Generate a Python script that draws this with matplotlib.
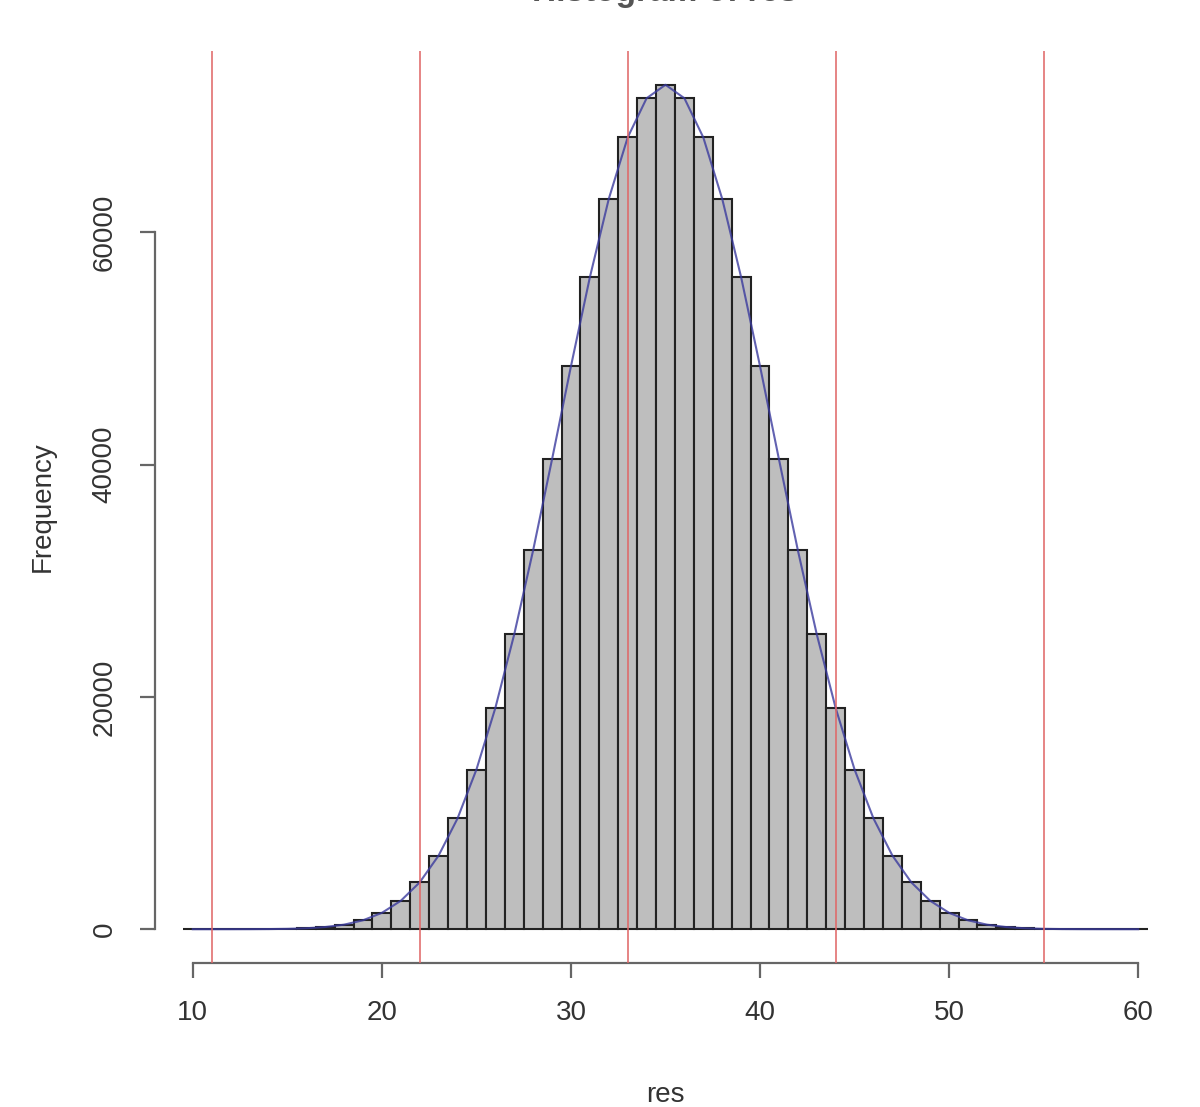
import matplotlib
matplotlib.use("Agg")
import matplotlib.pyplot as plt
import numpy as np

# counts per sum, sums 10..60
sums = list(range(10, 61))
counts = [0, 0, 1, 4, 12, 33, 83, 188, 393, 768,
          1409, 2447, 4034, 6342, 9535, 13746, 19042, 25387, 32624, 40457,
          48464, 56124, 62870, 68158, 71532, 72693, 71532, 68158, 62870, 56124,
          48464, 40457, 32624, 25387, 19042, 13746, 9535, 6342, 4034, 2447,
          1409, 768, 393, 188, 83, 33, 12, 4, 1, 0, 0]
vlines = [11, 22, 33, 44, 55]
xticks = [10, 20, 30, 40, 50, 60]
yticks = [0, 20000, 40000, 60000]

plt.rcParams['font.family'] = ['Liberation Sans', 'DejaVu Sans']

fig = plt.figure(figsize=(12, 11.07), dpi=100)
ax = fig.add_axes([155/1200, 144/1107, (1176-155)/1200, (1056-144)/1107])

# histogram bars
ax.bar(sums, counts, width=1.0, color='#bebebe', edgecolor='#222222', linewidth=1.5, zorder=2)
# line through bar tops
ax.plot(sums, counts, color='#3b3b9e', linewidth=1.5, alpha=0.8, zorder=3)
# red lines
for v in vlines:
    ax.axvline(v, color='#e06666', linewidth=1.4, alpha=0.8, zorder=4)

ax.set_xlim(8, 62)
ax.set_ylim(-2908, 75601)

for s in ['top', 'right']:
    ax.spines[s].set_visible(False)
ax.spines['left'].set_bounds(0, 60000)
ax.spines['bottom'].set_bounds(10, 60)
for s in ['left', 'bottom']:
    ax.spines[s].set_color('#666666')
    ax.spines[s].set_linewidth(1.6)

ax.set_xticks(xticks)
ax.set_yticks(yticks)
ax.tick_params(axis='both', length=11, width=1.6, color='#666666',
               labelsize=20, labelcolor='#333333', pad=16)
plt.setp(ax.get_yticklabels(), rotation=90, va='center')

ax.set_xlabel('res', fontsize=20, color='#333333', labelpad=40)
ax.set_ylabel('Frequency', fontsize=20, color='#333333', labelpad=26)

# title sits mostly above the top edge, as in the reference
fig.text(665/1200, 1 - 1/1107, 'Histogram of res', ha='center', va='baseline',
         fontsize=24, fontweight='bold', color='#555555')

fig.savefig('out.png', dpi=100)
